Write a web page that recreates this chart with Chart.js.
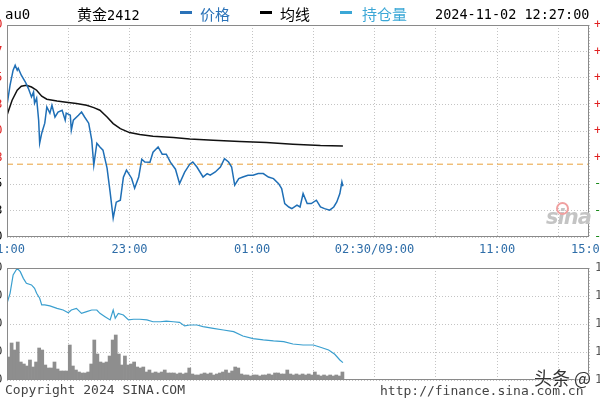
<!DOCTYPE html>
<html><head><meta charset="utf-8">
<script src="https://cdn.jsdelivr.net/npm/chart.js@4.4.1/dist/chart.umd.min.js"></script>
<style>
html,body{margin:0;padding:0;background:#fff;width:600px;height:400px;overflow:hidden;position:relative;}
.wrap{position:absolute;left:-40px;}
.t{position:absolute;white-space:nowrap;line-height:1;}
.mono{font-family:"DejaVu Sans Mono","Liberation Mono",monospace;}
.cjk{font-family:"Noto Sans CJK SC","DejaVu Sans Mono",sans-serif;}
.dash{position:absolute;height:3px;width:12px;}
</style></head><body>
<div class="wrap" style="top:0"><canvas id="c1" width="680" height="262" style="width:680px;height:262px"></canvas></div>
<div class="wrap" style="top:252px"><canvas id="c2" width="680" height="148" style="width:680px;height:148px"></canvas></div>

<div class="t mono" style="left:5px;top:7px;font-size:14px;color:#000">au0</div>
<div class="t cjk" style="left:77px;top:6px;font-size:15px;color:#000">黄金<span class="mono" style="font-size:13.5px">2412</span></div>
<div class="dash" style="left:180px;top:11px;background:#2a72b8"></div>
<div class="t cjk" style="left:200px;top:6px;font-size:15px;color:#2a72b8">价格</div>
<div class="dash" style="left:260px;top:11px;background:#000"></div>
<div class="t cjk" style="left:280px;top:6px;font-size:15px;color:#000">均线</div>
<div class="dash" style="left:340px;top:11px;background:#3ba7d6"></div>
<div class="t cjk" style="left:362px;top:6px;font-size:15px;color:#3ba7d6">持仓量</div>
<div class="t mono" style="left:435px;top:8px;font-size:13.5px;color:#000">2024-11-02 12:27:00</div>

<div class="t" style="left:546px;top:207px;font-family:'DejaVu Sans',sans-serif;font-style:italic;font-weight:bold;font-size:21px;color:#c4c4c4;letter-spacing:-1px">sina</div>
<div style="position:absolute;left:556px;top:202px;width:9px;height:9px;border-radius:50%;border:2px solid #f0a0a0"></div>

<div class="t mono" style="left:5px;top:383px;font-size:13px;color:#444">Copyright 2024 SINA.COM</div>
<div class="t mono" style="left:380px;top:384px;font-size:13px;color:#444">http://finance.sina.com.cn</div>
<div class="t cjk" style="left:534px;top:368px;font-size:18px;color:#333;text-shadow:0 0 2px #fff,0 0 2px #fff">头条 @</div>

<script>
// ---- data ----
const prevClose = 621.14;
const timeLabels = ['21:00','23:00','01:00','02:30/09:00','11:00','15:00'];
const timeLabelPos = [0,120,240,360,480,570];
const timeGrid = [0,60,120,180,240,300,360,420,480,540,570];
const priceTicks = [617.5,618.825,620.15,621.475,622.8,624.125,625.45,626.775,628.1];
const volTicks = [0,1120,2240,3360,4480];
const oiTicks = [170000,172000,174000,176000,178000];

const priceTimes = [0,3,6,8,10,11,14,18,21,24,26,27,29,31,32,34,37,39,42,44,47,50,54,57,58,62,63,65,70,73,76,80,83,85,88,91,94,98,101,104,107,111,114,117,122,125,129,132,135,140,143,148,152,156,160,165,169,174,179,182,186,189,192,196,199,204,209,213,217,220,223,227,231,236,241,246,251,256,261,266,269,272,276,279,284,287,290,294,298,303,307,311,316,320,323,326,328,329];
const priceValues = [624.09,625.09,625.84,626.09,625.84,625.94,625.59,625.25,624.92,624.50,624.75,624.19,624.44,623.34,622.19,622.69,623.19,624.00,623.69,624.09,623.50,623.75,623.84,623.34,623.69,623.59,622.84,623.34,623.59,623.75,623.50,623.19,622.34,621.09,622.19,622.00,621.84,620.94,619.74,618.44,619.24,619.34,620.49,620.84,620.44,619.94,620.50,621.39,621.25,621.24,621.74,622.00,621.64,621.64,621.24,620.89,620.17,620.74,621.14,621.25,621.00,620.75,620.50,620.67,620.59,620.75,621.00,621.42,621.25,621.00,620.09,620.42,620.50,620.59,620.59,620.67,620.67,620.50,620.42,620.17,619.92,619.17,619.00,618.92,619.09,619.00,619.67,619.17,619.17,619.34,619.00,618.92,618.84,619.00,619.25,619.67,620.25,620.04];

const meanTimes = [0,5,10,14,19,24,29,34,39,49,58,68,78,85,91,98,104,111,120,130,143,163,179,202,228,254,280,307,329];
const meanValues = [623.59,624.34,624.84,625.04,625.09,625.00,624.84,624.54,624.39,624.30,624.24,624.17,624.09,623.97,623.84,623.50,623.17,622.92,622.72,622.62,622.54,622.47,622.40,622.34,622.27,622.22,622.14,622.07,622.05];

const oiTimes = [0,3,6,10,13,16,19,24,27,29,32,34,37,42,49,55,60,63,68,73,78,83,88,91,96,101,104,106,109,114,119,124,130,137,143,150,156,163,169,174,179,186,192,202,212,222,231,241,251,261,271,280,290,300,307,315,321,326,329];
const oiValues = [175480,176190,177500,177980,177740,177260,176910,176790,176550,176190,175840,175360,175360,175290,175120,175000,174810,175000,175120,174760,174880,175000,175000,174760,174520,174290,175000,174410,174760,174640,174290,174340,174340,174290,174160,174160,174210,174160,174120,173860,173930,173930,173810,173690,173570,173450,173140,172950,172860,172790,172740,172570,172500,172500,172340,172140,171840,171430,171240];

// volume per 3-minute slot, from 21:00
const volumeValues = [920,1480,1200,1520,720,640,560,800,520,720,
1280,1200,600,480,480,720,440,360,360,360,
1400,560,400,320,280,280,320,640,1600,1040,
720,680,720,960,1600,1800,1040,600,960,600,
640,720,520,480,520,320,400,280,320,280,
320,400,280,280,280,240,280,240,280,480,
240,200,200,240,280,240,280,200,240,280,
320,400,280,360,520,480,240,200,200,160,
200,200,160,200,200,240,200,280,280,240,
240,400,240,200,240,200,240,200,240,200,
320,200,160,200,160,200,160,200,160,320];
const volSlot = 3;

// ---- helpers ----
const xy = (ts, vs) => ts.map((t, i) => ({x: t, y: vs[i]}));
const monoFont = {family: '"DejaVu Sans Mono","Liberation Mono",monospace', size: 12};
const gridStyle = {color: '#c4c4c4', lineWidth: 1};
const dotted = {display: false, dash: [1, 2]};
const frame = {
  id: 'frame',
  afterDatasetsDraw(c) {
    const {ctx, chartArea: a} = c;
    ctx.save();
    ctx.strokeStyle = '#8a8a8a'; ctx.lineWidth = 1; ctx.setLineDash([]);
    ctx.strokeRect(Math.round(a.left) + 0.5, Math.round(a.top) + 0.5, Math.round(a.right - a.left) - 1, Math.round(a.bottom - a.top) - 1);
    ctx.restore();
  }
};
const setTicks = arr => scale => { scale.ticks = arr.map(v => ({value: v})); };
const xAxis = (showLabels, h) => ({
  type: 'linear', min: 0, max: 570, offset: false,
  afterBuildTicks: setTicks(timeGrid),
  afterFit: s => { s.height = h; },
  grid: Object.assign({drawTicks: false, offset: false}, gridStyle),
  border: dotted,
  ticks: {
    display: showLabels, autoSkip: false, maxRotation: 0, padding: 6,
    color: '#2e6da8', font: monoFont,
    callback: v => { const i = timeLabelPos.indexOf(v); return i >= 0 ? timeLabels[i] : ''; }
  }
});
const common = {
  animation: false, responsive: false, maintainAspectRatio: false, events: [],
  plugins: {legend: {display: false}, tooltip: {enabled: false}},
  elements: {point: {radius: 0}, line: {tension: 0}}
};

// ---- top chart: price ----
new Chart(document.getElementById('c1'), {
  type: 'line',
  data: {datasets: [
    {data: xy(priceTimes, priceValues), borderColor: '#1f6fb6', borderWidth: 1.5, order: 1, yAxisID: 'y'},
    {data: xy(meanTimes, meanValues), borderColor: '#111', borderWidth: 1.5, order: 2, yAxisID: 'y'},
    {data: [{x: 0, y: prevClose}, {x: 570, y: prevClose}], borderColor: '#e9a13b', borderWidth: 1, borderDash: [6, 4], order: 3, yAxisID: 'y'}
  ]},
  options: Object.assign({}, common, {
    layout: {padding: {top: 25, left: 0, right: 0, bottom: 0}},
    scales: {
      x: xAxis(true, 25),
      y: {
        position: 'left', min: priceTicks[0], max: priceTicks[priceTicks.length - 1],
        afterBuildTicks: setTicks(priceTicks), afterFit: s => { s.width = 47; },
        grid: Object.assign({drawTicks: false}, gridStyle), border: dotted,
        ticks: {padding: 4.5, font: monoFont, callback: v => v.toFixed(2),
          color: c => c.tick.value > prevClose ? '#e02020' : '#000'}
      },
      y2: {
        position: 'right', min: priceTicks[0], max: priceTicks[priceTicks.length - 1],
        afterBuildTicks: setTicks(priceTicks), afterFit: s => { s.width = 51; },
        grid: {drawOnChartArea: false, drawTicks: false}, border: {display: false},
        ticks: {padding: 5, font: monoFont,
          callback: v => { const p = (v - prevClose) / prevClose * 100; return (p >= 0 ? '+' : '-') + Math.abs(p).toFixed(2) + '%'; },
          color: c => c.tick.value > prevClose ? '#e02020' : '#1a8a1a'}
      }
    }
  }),
  plugins: [frame]
});

// ---- bottom chart: volume + open interest ----
new Chart(document.getElementById('c2'), {
  type: 'bar',
  data: {datasets: [
    {type: 'line', data: xy(oiTimes, oiValues), borderColor: '#3a9fcf', borderWidth: 1.2, order: 0, yAxisID: 'oi'},
    {type: 'bar', data: volumeValues.map((v, i) => ({x: i * volSlot + volSlot / 2, y: v})),
     backgroundColor: '#8e8e8e', borderWidth: 0, barPercentage: 1, categoryPercentage: 1, order: 1, yAxisID: 'vol'}
  ]},
  options: Object.assign({}, common, {
    layout: {padding: {top: 16, left: 0, right: 0, bottom: 0}},
    scales: {
      x: xAxis(false, 20),
      vol: {
        position: 'left', min: 0, max: volTicks[volTicks.length - 1],
        afterBuildTicks: setTicks(volTicks), afterFit: s => { s.width = 47; },
        grid: Object.assign({drawTicks: false}, gridStyle), border: dotted,
        ticks: {padding: 4.5, font: monoFont, color: '#333'}
      },
      oi: {
        position: 'right', min: oiTicks[0], max: oiTicks[oiTicks.length - 1],
        afterBuildTicks: setTicks(oiTicks), afterFit: s => { s.width = 51; },
        grid: {drawOnChartArea: false, drawTicks: false}, border: {display: false},
        ticks: {padding: 6, font: monoFont, color: '#555', callback: v => String(v)}
      }
    }
  }),
  plugins: [frame]
});
</script>
</body></html>
